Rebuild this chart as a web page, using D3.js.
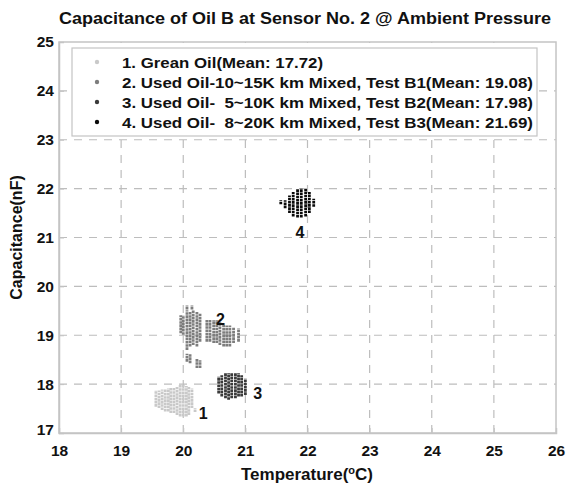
<!DOCTYPE html>
<html>
<head>
<meta charset="utf-8">
<script src="https://cdn.jsdelivr.net/npm/d3@7"></script>
<style>
  body { margin: 0; background: #fff; }
  text { font-family: "Liberation Sans", Arial, sans-serif; font-weight: bold; }
</style>
</head>
<body>
<svg id="chart"></svg>
<script>
// Capacitance vs temperature, four oil samples
// Each measured column: [temperature, lowest capacitance, highest capacitance]

const xTicks = [18, 19, 20, 21, 22, 23, 24, 25, 26];
const yTicks = [17, 18, 19, 20, 21, 22, 23, 24, 25];

const seriesNames = [
    "1. Grean Oil(Mean: 17.72)",
    "2. Used Oil-10~15K km Mixed, Test B1(Mean: 19.08)",
    "3. Used Oil-  5~10K km Mixed, Test B2(Mean: 17.98)",
    "4. Used Oil-  8~20K km Mixed, Test B3(Mean: 21.69)"
];
const seriesColors = ["#c9c9c9", "#7d7d7d", "#3a3a3a", "#0a0a0a"];

const green = [
    [19.56, 17.57, 17.84], [19.61, 17.54, 17.84], [19.66, 17.50, 17.86],
    [19.71, 17.47, 17.87], [19.76, 17.47, 17.88], [19.80, 17.44, 17.89],
    [19.85, 17.44, 17.89], [19.90, 17.40, 17.91], [19.95, 17.37, 17.95],
    [20.00, 17.37, 17.95], [20.05, 17.37, 17.93], [20.09, 17.40, 17.91],
    [20.14, 17.54, 17.88], [20.19, 17.46, 17.48]
];
const usedB1 = [
    [19.96, 19.07, 19.38], [20.00, 19.04, 19.38], [20.06, 18.73, 19.48],
    [20.11, 18.80, 19.45], [20.16, 18.83, 19.48], [20.22, 18.80, 19.46],
    [20.27, 18.90, 19.41], [20.38, 18.90, 19.28], [20.43, 18.90, 19.28],
    [20.49, 18.87, 19.28], [20.54, 18.87, 19.28], [20.59, 18.83, 19.24],
    [20.65, 18.80, 19.21], [20.70, 18.80, 19.17], [20.75, 18.80, 19.17],
    [20.81, 18.87, 19.14], [20.89, 18.90, 19.11],
    [20.06, 18.49, 18.59], [20.11, 18.46, 18.59], [20.22, 18.36, 18.49],
    [20.27, 18.36, 18.46],
    [20.06, 19.56, 19.58], [20.14, 19.56, 19.58]
];
const usedB2 = [
    [20.57, 17.84, 18.12], [20.62, 17.78, 18.15], [20.68, 17.74, 18.19],
    [20.73, 17.71, 18.19], [20.78, 17.74, 18.19], [20.84, 17.74, 18.19],
    [20.89, 17.78, 18.19], [20.94, 17.78, 18.15], [21.00, 17.81, 18.08]
];
const usedB3 = [
    [21.57, 21.71, 21.73], [21.64, 21.63, 21.73], [21.71, 21.53, 21.83],
    [21.77, 21.46, 21.90], [21.84, 21.44, 21.96], [21.90, 21.44, 21.97],
    [21.97, 21.46, 21.96], [22.03, 21.53, 21.90], [22.10, 21.66, 21.76]
];
const series = [green, usedB1, usedB2, usedB3];

// cluster number labels [temperature, capacitance]
const clusterLabels = [["1", 20.32, 17.40], ["2", 20.60, 19.33], ["3", 21.20, 17.82], ["4", 21.88, 21.10]];

const width = 572;
const height = 484;
const margin = { top: 42, right: 16, bottom: 51, left: 59 };

const svg = d3.select("#chart")
    .attr("width", width)
    .attr("height", height);

const x = d3.scaleLinear().domain([18, 26]).range([margin.left, width - margin.right]);
const y = d3.scaleLinear().domain([17, 25]).range([height - margin.bottom, margin.top]);

// dashed grid
svg.append("g")
    .selectAll("line")
    .data(xTicks.slice(1, -1))
    .enter().append("line")
    .attr("x1", d => x(d)).attr("x2", d => x(d))
    .attr("y1", y(17)).attr("y2", y(25))
    .attr("stroke", "#bdbdbd")
    .attr("stroke-width", 1.2)
    .attr("stroke-dasharray", "8,7");

svg.append("g")
    .selectAll("line")
    .data(yTicks.slice(1, -1))
    .enter().append("line")
    .attr("x1", x(18)).attr("x2", x(26))
    .attr("y1", d => y(d)).attr("y2", d => y(d))
    .attr("stroke", "#bdbdbd")
    .attr("stroke-width", 1.2)
    .attr("stroke-dasharray", "8,7");

// axes
const xAxis = svg.append("g")
    .attr("transform", `translate(0,${y(17)})`)
    .call(d3.axisBottom(x).tickValues(xTicks).tickSize(-5).tickPadding(9));
const yAxis = svg.append("g")
    .attr("transform", `translate(${x(18)},0)`)
    .call(d3.axisLeft(y).tickValues(yTicks).tickSize(-5).tickPadding(5));

[xAxis, yAxis].forEach(g => {
    g.select(".domain").attr("stroke", "#c4c4c4").attr("stroke-width", 1.5);
    g.selectAll(".tick line").attr("stroke", "#c4c4c4");
    g.selectAll(".tick text")
        .attr("fill", "#111")
        .style("font-size", "15.5px")
        .style("font-weight", "bold");
});
xAxis.selectAll(".tick text").attr("dy", "0.9em");
yAxis.select(".tick:first-of-type text").attr("dy", "0.1em");

// right and top borders
svg.append("rect")
    .attr("x", x(18)).attr("y", y(25))
    .attr("width", x(26) - x(18)).attr("height", y(17) - y(25))
    .attr("fill", "none")
    .attr("stroke", "#c4c4c4")
    .attr("stroke-width", 1.5);

// measurement columns
series.forEach((cols, i) => {
    svg.append("g")
        .selectAll("line")
        .data(cols)
        .enter().append("line")
        .attr("x1", d => x(d[0])).attr("x2", d => x(d[0]))
        .attr("y1", d => y(d[1]) + 1.5).attr("y2", d => y(d[2]) - 1.5)
        .attr("stroke", seriesColors[i])
        .attr("stroke-width", 2.8)
        .attr("stroke-dasharray", "2.6,0.6");
});

svg.append("g")
    .selectAll("text")
    .data(clusterLabels)
    .enter().append("text")
    .attr("x", d => x(d[1]))
    .attr("y", d => y(d[2]))
    .attr("text-anchor", "middle")
    .attr("dy", "0.35em")
    .attr("fill", "#111")
    .style("font-size", "16px")
    .text(d => d[0]);

// legend
const legendWidths = [201, 411, 411, 411];
const legend = svg.append("g");
legend.append("rect")
    .attr("x", 72).attr("y", 48)
    .attr("width", 465).attr("height", 88)
    .attr("fill", "#fff")
    .attr("stroke", "#c4c4c4")
    .attr("stroke-width", 1.2);

const item = legend.selectAll(".item")
    .data(seriesNames)
    .enter().append("g")
    .attr("transform", (d, i) => `translate(97,${62 + i * 20})`);

item.append("circle")
    .attr("r", 2.2)
    .attr("fill", (d, i) => seriesColors[i]);

item.append("text")
    .attr("x", 25)
    .attr("dy", "0.36em")
    .attr("fill", "#111")
    .style("font-size", "15.5px")
    .style("white-space", "pre")
    .attr("xml:space", "preserve")
    .attr("textLength", (d, i) => legendWidths[i])
    .attr("lengthAdjust", "spacingAndGlyphs")
    .text(d => d);

// title and axis labels
svg.append("text")
    .attr("x", 305).attr("y", 24)
    .attr("text-anchor", "middle")
    .attr("fill", "#111")
    .style("font-size", "16px")
    .attr("textLength", 492)
    .attr("lengthAdjust", "spacingAndGlyphs")
    .text("Capacitance of Oil B at Sensor No. 2 @ Ambient Pressure");

const xLabel = svg.append("text")
    .attr("x", 307).attr("y", 480)
    .attr("text-anchor", "middle")
    .attr("fill", "#111")
    .style("font-size", "17px");
xLabel.append("tspan").text("Temperature(");
xLabel.append("tspan").attr("dy", -6).style("font-size", "11px").text("o");
xLabel.append("tspan").attr("dy", 6).text("C)");

svg.append("text")
    .attr("transform", `translate(22,${(y(17) + y(25)) / 2}) rotate(-90)`)
    .attr("text-anchor", "middle")
    .attr("fill", "#111")
    .style("font-size", "16px")
    .text("Capacitance(nF)");
</script>
</body>
</html>
